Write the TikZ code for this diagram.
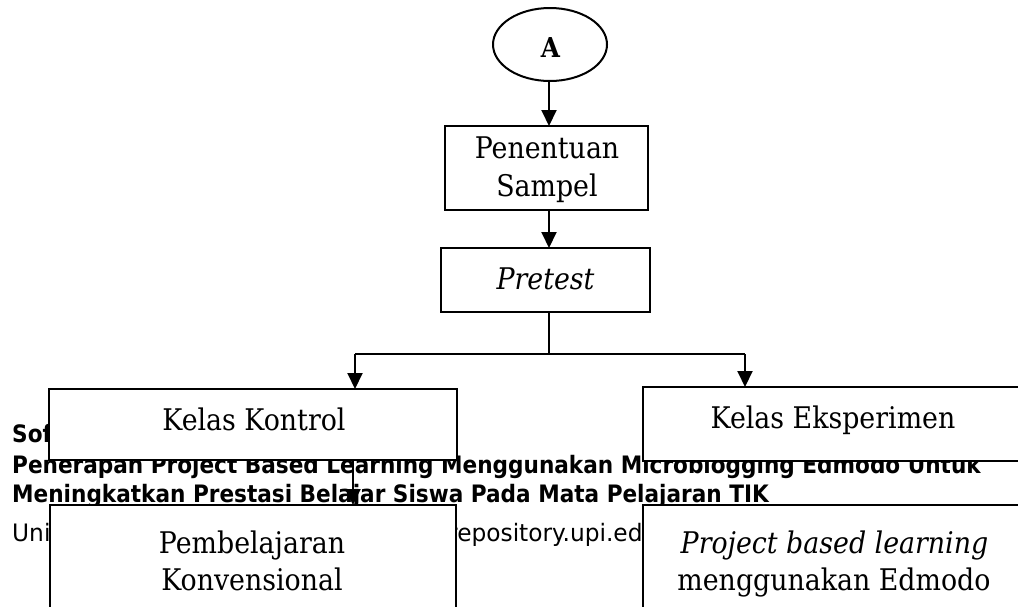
\documentclass[tikz,border=0pt]{standalone}
\usepackage{fontspec}
\setmainfont{DejaVu Serif}[FakeStretch=0.9]
\newfontfamily\footfont{DejaVu Sans}[FakeStretch=0.9]
\newfontfamily\footregfont{DejaVu Sans}[FakeStretch=0.97]
\usetikzlibrary{shapes.geometric,arrows.meta}
\newcommand\dgfont{\fontsize{29.8}{36}\selectfont}
\newcommand\ftfont{\footfont\fontsize{24}{28}\selectfont}
\newcommand\ftregfont{\footregfont\fontsize{24}{28}\selectfont}
\tikzset{
  box/.style={draw, line width=2pt, fill=white, inner sep=0pt, outer sep=0pt, anchor=north west},
  txt/.style={anchor=base, inner sep=0pt, font=\dgfont},
  foot/.style={anchor=base west, inner sep=0pt, font=\ftfont\bfseries},
  footreg/.style={anchor=base west, inner sep=0pt, font=\ftregfont},
  arr/.style={line width=2pt, -{Triangle[length=16pt,width=15pt]}},
  ln/.style={line width=2pt}
}
\begin{document}
\begin{tikzpicture}[x=1pt,y=-1pt]
\useasboundingbox (0,0) rectangle (1018,606);
\clip (0,0) rectangle (1018,606);
\fill[white] (0,0) rectangle (1018,606);
% footer text of the page (behind the boxes)
\node[foot] (f1) at (12,442) {Sof};
\node[foot] (f2) at (12,473) {Penerapan Project Based Learning Menggunakan Microblogging Edmodo Untuk};
\node[foot] (f3) at (12,502) {Meningkatkan Prestasi Belajar Siswa Pada Mata Pelajaran TIK};
\node[footreg] (f4) at (12,541) {Uni};
\node[footreg] (f5) at (448,541) {repository.upi.edu};
% shapes
\node[draw, ellipse, line width=2pt, fill=white, minimum width=114pt, minimum height=73pt, inner sep=0pt, outer sep=0pt] (A) at (550,44.5) {};
\node[anchor=base, inner sep=0pt, font=\fontsize{27.4}{30}\selectfont\bfseries] (At) at (550.5,57) {A};
\node[box, minimum width=203pt, minimum height=84pt] (pen) at (445,126) {};
\node[box, minimum width=209pt, minimum height=64pt] (pre) at (441,248) {};
\node[box, minimum width=408pt, minimum height=71pt] (kk) at (49,389) {};
\node[box, minimum width=382pt, minimum height=74pt] (ke) at (643,387) {};
\node[box, minimum width=406pt, minimum height=130pt] (kv) at (50,505) {};
\node[box, minimum width=382pt, minimum height=130pt] (pb) at (643,505) {};
% texts
\node[txt] (pen1) at (547,158) {Penentuan};
\node[txt] (pen2) at (547,196) {Sampel};
\node[txt] (pre1) at (545.5,289) {\itshape Pretest};
\node[txt] (kk1) at (254,430) {Kelas Kontrol};
\node[txt] (ke1) at (833,428) {Kelas Eksperimen};
\node[txt] (kv1) at (252,553) {Pembelajaran};
\node[txt] (kv2) at (252,590) {Konvensional};
\node[txt] (pb1) at (834.5,553) {\itshape Project based learning};
\node[txt] (pb2) at (834,590) {menggunakan Edmodo};
% connectors
\coordinate (j) at (549,354);
\coordinate (jl) at (355,354);
\coordinate (jr) at (745,354);
\coordinate (kd) at (353,460);
\draw[arr] (A.south -| j) -- (j |- pen.north);
\draw[arr] (j |- pen.south) -- (j |- pre.north);
\draw[line width=1.5pt] (j |- pre.south) -- (j);
\draw[ln] (jl) -- (jr);
\draw[arr] (jl) -- (jl |- kk.north);
\draw[arr] (jr) -- (jr |- ke.north);
\draw[arr] (kd |- kk.south) -- (kd |- kv.north);
\end{tikzpicture}
\end{document}
